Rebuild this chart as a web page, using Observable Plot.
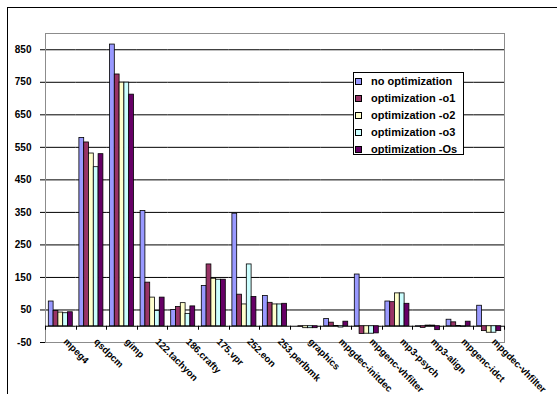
<!DOCTYPE html>
<html>
<head>
<meta charset="utf-8">
<script src="https://cdn.jsdelivr.net/npm/d3@7"></script>
<script src="https://cdn.jsdelivr.net/npm/@observablehq/plot@0.6"></script>
<style>
  body { margin: 0; background: #fff; }
  #wrap { position: relative; width: 557px; height: 394px; overflow: hidden; font-family: "Liberation Sans", Arial, sans-serif; }
  #outer { position: absolute; left: 7px; top: 7px; width: 700px; height: 500px; border-left: 1.5px solid #000; border-top: 1.5px solid #000; pointer-events: none; }
  #legend { position: absolute; left: 353px; top: 72px; width: 111px; height: 83px; box-sizing: border-box; border: 1px solid #000; background: #fff; }
  #legend .row { display: flex; align-items: center; height: 16.9px; font-size: 11px; font-weight: bold; color: #000; white-space: nowrap; }
  #legend .sw { width: 5px; height: 5px; border: 1px solid #000; margin-left: 1px; margin-right: 9px; flex: none; }
</style>
</head>
<body>
<div id="wrap">
  <div id="chart"></div>
  <div id="outer"></div>
  <div id="legend"></div>
</div>
<script>
// Benchmarks along the category axis
const categories = ["mpeg4", "qsdpcm", "gimp", "122.tachyon", "186.crafty", "175.vpr", "252.eon", "253.perlbmk",
  "graphics", "mpgdec-initdec", "mpgenc-vhfilter", "mp3-psych", "mp3-align", "mpgenc-idct", "mpgdec-vhfilter"];

// Compiler settings (one bar each per benchmark)
const series = ["no optimization", "optimization -o1", "optimization -o2", "optimization -o3", "optimization -Os"];
const colors = ["#9999FF", "#993366", "#FFFFCC", "#CCFFFF", "#660066"];

// Measured values per setting, in benchmark order
const noOpt = [76, 579, 866, 354, 50, 124, 346, 93, 0, 22, 159, 76, -1, 20, 63];
const optO1 = [47, 565, 774, 134, 59, 190, 97, 72, -1, 11, -24, 74, -5, 12, -15];
const optO2 = [42, 531, 749, 88, 71, 146, 67, 67, -6, 1, -23, 101, 2, 1, -20];
const optO3 = [40, 489, 749, 47, 38, 143, 190, 67, -6, -4, -23, 101, 2, -2, -20];
const optOs = [43, 529, 712, 88, 61, 143, 90, 69, -6, 14, -22, 69, -12, 14, -15];
const values = [noOpt, optO1, optO2, optO3, optOs];

// Value axis
const yTicks = [-50, 50, 150, 250, 350, 450, 550, 650, 750, 850];
const gridLines = [50, 150, 250, 350, 450, 550, 650, 750, 850];
const yDomain = [-50, 900];

const data = categories.flatMap((category, i) =>
  series.map((s, j) => ({category, series: s, value: values[j][i]})));

const chart = Plot.plot({
  width: 557,
  height: 394,
  marginLeft: 45,
  marginRight: 53,
  marginTop: 33,
  marginBottom: 52,
  style: {fontFamily: "'Liberation Sans', Arial, sans-serif", background: "transparent", overflow: "visible"},
  fx: {domain: categories, padding: 0, round: false, label: null, axis: null},
  x: {domain: series, paddingInner: 0, paddingOuter: 0.6875, round: false, axis: null},
  y: {domain: yDomain, label: null},
  color: {domain: series, range: colors},
  marks: [
    // facets abut (no padding), so the per-facet rules join into continuous lines
    Plot.ruleY(gridLines, {stroke: "#000", strokeWidth: 1}),
    Plot.frame({stroke: "#8c8c8c", strokeWidth: 1, facet: "super"}),
    Plot.ruleY([0], {stroke: "#000", strokeWidth: 1}),
    Plot.barY(data, {fx: "category", x: "series", y1: 0, y2: "value", fill: "series", stroke: "#000", strokeWidth: 0.8}),
    Plot.axisY({ticks: yTicks, tickSize: 5, tickPadding: 9, tickFormat: d => String(d), fontSize: 10, fontWeight: "bold", label: null}),
    // benchmark names, slanted down to the right from under each group
    Plot.text(categories, {fx: d => d, text: d => d, frameAnchor: "bottom", rotate: 45, textAnchor: "start",
      lineAnchor: "top", dx: 7, dy: -5, fontSize: 9.6, fontWeight: "bold", fill: "#000"})
  ]
});

document.getElementById("chart").appendChild(chart);

// Small tick marks below the category axis, at the boundaries between benchmarks
const fx = chart.scale("fx");
const y = chart.scale("y");
const y0 = y.apply(0);
const edges = categories.map(c => fx.apply(c)).concat([fx.apply(categories[categories.length - 1]) + fx.bandwidth]);
d3.select(chart).append("g")
  .attr("stroke", "#000")
  .attr("stroke-width", 1)
  .selectAll("line")
  .data(edges)
  .join("line")
  .attr("x1", d => Math.round(d) + 0.5)
  .attr("x2", d => Math.round(d) + 0.5)
  .attr("y1", y0)
  .attr("y2", y0 + 4);

// Legend box
const legend = d3.select("#legend");
series.forEach((s, i) => {
  const row = legend.append("div").attr("class", "row");
  row.append("div").attr("class", "sw").style("background", colors[i]);
  row.append("span").text(s);
});
</script>
</body>
</html>
